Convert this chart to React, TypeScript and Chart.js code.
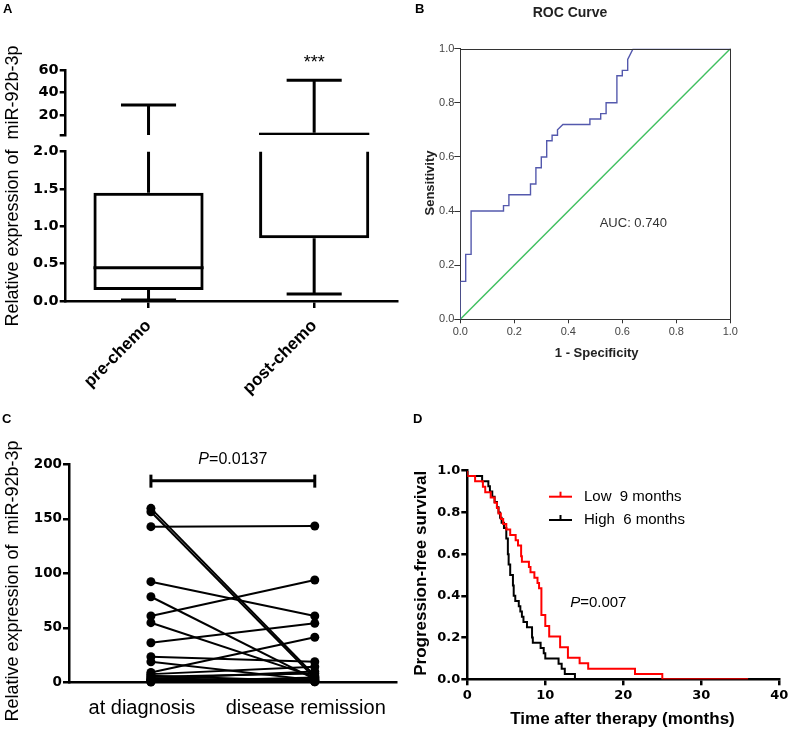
import React, { useEffect, useRef } from 'react';
import { Chart, registerables } from 'chart.js';

Chart.register(...registerables);
Chart.defaults.font.family = 'Liberation Sans';

const CW = 792;
const CH = 733;

// ---------- Panel A: box plot with broken y axis ----------
const boxCategories = ['pre-chemo', 'post-chemo'];
const boxMin = [0.013, 0.094];
const boxQ1 = [0.147, 0.84];
const boxMedian = [0.446, 2.6];
const boxQ3 = [1.45, 4.1];
const boxMax = [29, 51];
const boxStars = ['', '***'];
const upperTicks = [2, 20, 40, 60];
const lowerTicks = [0, 0.5, 1.0, 1.5, 2.0];

// ---------- Panel B: ROC curve ----------
const rocFpr = [0, 0, 0.02, 0.02, 0.04, 0.04, 0.16, 0.16, 0.18, 0.18, 0.26, 0.26, 0.28, 0.28, 0.30, 0.30, 0.32, 0.32, 0.34, 0.34, 0.36, 0.36, 0.38, 0.48, 0.48, 0.52, 0.52, 0.54, 0.54, 0.58, 0.58, 0.60, 0.60, 0.62, 0.62, 0.64, 1.0];
const rocTpr = [0, 0.14, 0.14, 0.24, 0.24, 0.40, 0.40, 0.42, 0.42, 0.46, 0.46, 0.50, 0.50, 0.56, 0.56, 0.60, 0.60, 0.66, 0.66, 0.68, 0.68, 0.70, 0.72, 0.72, 0.74, 0.74, 0.76, 0.76, 0.80, 0.80, 0.90, 0.90, 0.92, 0.92, 0.96, 1.0, 1.0];
const refFpr = [0, 1];
const refTpr = [0, 1];
const rocTicks = [0, 0.2, 0.4, 0.6, 0.8, 1.0];
const rocAuc = 'AUC: 0.740';

// ---------- Panel C: paired samples ----------
const pairedCategories = ['at diagnosis', 'disease remission'];
const atDiagnosis = [159.6, 156.5, 142.8, 92.3, 78.5, 60.8, 54.7, 36.3, 23.5, 18.9, 9, 7.5, 6, 5, 4, 3.2, 2.5, 2, 1.5, 1, 0.6, 0.3];
const atRemission = [6, 4, 143.4, 60.8, 3, 93.9, 5, 54.1, 18.9, 2, 41.3, 14.3, 1, 8, 0.5, 10, 2, 1.2, 3, 0.5, 4.5, 1];
const pairedTicks = [0, 50, 100, 150, 200];
const pairedBracketLevel = 185;
const pairedP = '0.0137';

// ---------- Panel D: Kaplan-Meier ----------
const lowTimes = [0, 1.0, 2.0, 2.3, 3.0, 3.5, 3.8, 4.0, 4.3, 4.6, 5.0, 5.5, 6.2, 6.5, 6.9, 7.0, 7.9, 8.1, 8.6, 9.0, 9.2, 9.5, 10.0, 10.5, 11.9, 12.9, 14.4, 15.5, 21.5, 25.0, 36.0];
const lowSurv = [1, 0.974, 0.949, 0.923, 0.897, 0.872, 0.846, 0.821, 0.795, 0.769, 0.744, 0.718, 0.692, 0.667, 0.641, 0.590, 0.564, 0.538, 0.513, 0.487, 0.462, 0.436, 0.308, 0.256, 0.205, 0.154, 0.103, 0.077, 0.051, 0.026, 0];
const highTimes = [0, 1.9, 2.7, 2.9, 3.2, 3.5, 3.8, 4.0, 4.2, 4.4, 4.7, 5.0, 5.2, 5.3, 5.5, 5.85, 5.95, 6.15, 6.6, 6.8, 7.0, 7.2, 7.65, 8.3, 8.4, 9.4, 9.8, 10.0, 11.7, 12.1, 12.5, 13.8, 15.0];
const highSurv = [1, 0.975, 0.95, 0.925, 0.9, 0.875, 0.85, 0.825, 0.8, 0.775, 0.75, 0.725, 0.675, 0.6, 0.55, 0.5, 0.45, 0.4, 0.375, 0.35, 0.325, 0.3, 0.275, 0.25, 0.2, 0.175, 0.15, 0.125, 0.1, 0.075, 0.05, 0.025, 0];
const kmLabels = ['Low  9 months', 'High  6 months'];
const kmColors = ['#ff0000', '#000000'];
const kmXTicks = [0, 10, 20, 30, 40];
const kmYTicks = [0, 0.2, 0.4, 0.6, 0.8, 1.0];
const kmP = '0.007';

// ---------- helpers ----------
const fixY = (w: number) => (s: any) => {
  s.width = w;
  s.paddingTop = 0; s.paddingBottom = 0; s.paddingLeft = 0; s.paddingRight = 0;
};
const fixX = (h: number) => (s: any) => {
  s.height = h;
  s.paddingTop = 0; s.paddingBottom = 0; s.paddingLeft = 0; s.paddingRight = 0;
};
const area = (left: number, top: number, right: number, bottom: number, yW: number, xH: number) => ({
  left: left - yW, top, right: CW - right, bottom: CH - bottom - xH,
});
const setTicks = (vals: number[]) => (s: any) => { s.ticks = vals.map((v) => ({ value: v })); };

function text(ctx: CanvasRenderingContext2D, str: string, x: number, y: number, font: string, color = '#000',
  align: CanvasTextAlign = 'center', baseline: CanvasTextBaseline = 'middle', rot = 0) {
  ctx.save();
  ctx.translate(x, y);
  ctx.rotate(rot);
  ctx.font = font;
  ctx.fillStyle = color;
  ctx.textAlign = align;
  ctx.textBaseline = baseline;
  ctx.fillText(str, 0, 0);
  ctx.restore();
}

function pText(ctx: CanvasRenderingContext2D, value: string, cx: number, cy: number, size: number) {
  ctx.save();
  const fi = `italic ${size}px "Liberation Sans"`;
  const fr = `${size}px "Liberation Sans"`;
  ctx.font = fi; const w1 = ctx.measureText('P').width;
  ctx.font = fr; const rest = '=' + value; const w2 = ctx.measureText(rest).width;
  const x0 = cx - (w1 + w2) / 2;
  text(ctx, 'P', x0, cy, fi, '#000', 'left', 'middle');
  text(ctx, rest, x0 + w1, cy, fr, '#000', 'left', 'middle');
  ctx.restore();
}

const line = (ctx: CanvasRenderingContext2D, x1: number, y1: number, x2: number, y2: number) => {
  ctx.beginPath(); ctx.moveTo(x1, y1); ctx.lineTo(x2, y2); ctx.stroke();
};

const baseOpts = (padding: any) => ({
  responsive: false,
  animation: false as const,
  events: [] as any[],
  layout: { autoPadding: false, padding },
  plugins: { legend: { display: false }, tooltip: { enabled: false }, title: { display: false } },
});

const boldTick = (size: number) => ({ family: 'DejaVu Sans', size, weight: 'bold' as const });

const blackAxis = (tickLength: number, drawTicks = true) => ({
  grid: { display: true, drawOnChartArea: false, drawTicks, tickLength, tickWidth: 2.5, tickColor: '#000', color: '#000', lineWidth: 2.5, offset: false },
  border: { display: true, color: '#000', width: 2.5 },
});

// box plot whiskers / median drawn through the chart's scales
const makeBoxPlugin = (extraBottom: number) => ({
  id: 'boxWhiskers',
  afterDatasetsDraw(chart: any) {
    const { ctx, chartArea: a, scales: { x, y } } = chart;
    const meta = chart.getDatasetMeta(0);
    ctx.save();
    ctx.beginPath();
    ctx.rect(a.left - 20, a.top, a.right - a.left + 40, a.bottom - a.top + extraBottom);
    ctx.clip();
    ctx.strokeStyle = '#000';
    ctx.lineWidth = 3;
    boxCategories.forEach((_, i) => {
      const cx = x.getPixelForValue(i);
      const half = meta.data[i].width / 2;
      const cap = half / 2;
      const yMax = y.getPixelForValue(boxMax[i]);
      const yMin = y.getPixelForValue(boxMin[i]);
      line(ctx, cx, y.getPixelForValue(boxQ3[i]), cx, yMax);
      line(ctx, cx, y.getPixelForValue(boxQ1[i]), cx, yMin);
      line(ctx, cx - cap, yMax, cx + cap, yMax);
      line(ctx, cx - cap, yMin, cx + cap, yMin);
      const yMed = y.getPixelForValue(boxMedian[i]);
      line(ctx, cx - half, yMed, cx + half, yMed);
    });
    ctx.restore();
  },
});

function boxDataset(extraBottom: number) {
  return {
    data: boxCategories.map((_, i) => [boxQ1[i], boxQ3[i]]),
    backgroundColor: 'rgba(0,0,0,0)',
    borderColor: '#000',
    borderWidth: 3,
    borderSkipped: false,
    barPercentage: 0.665,
    categoryPercentage: 1,
    clip: { left: 20, right: 20, top: 0, bottom: extraBottom },
  };
}

function makeALower(canvas: HTMLCanvasElement) {
  return new Chart(canvas, {
    type: 'bar',
    data: { labels: boxCategories, datasets: [boxDataset(3) as any] },
    options: {
      ...baseOpts(area(65.7, 151.7, 397, 301, 60, 100)),
      scales: {
        x: {
          type: 'category', offset: true, afterFit: fixX(100),
          ...blackAxis(7),
          ticks: { color: '#000', font: { family: 'Liberation Sans', size: 17, weight: 'bold' }, minRotation: 45, maxRotation: 45, padding: 8, autoSkip: false },
        },
        y: {
          type: 'linear', min: 0, max: 2, afterFit: fixY(60), afterBuildTicks: setTicks(lowerTicks),
          ...blackAxis(6),
          ticks: { color: '#000', font: boldTick(14.5), padding: 1, callback: (v: any) => Number(v).toFixed(1) },
        },
      },
    } as any,
    plugins: [makeBoxPlugin(3), {
      id: 'aText',
      afterDraw(chart: any) {
        const { ctx } = chart;
        text(ctx, 'A', 3, 13, 'bold 13px "Liberation Sans"', '#000', 'left', 'alphabetic');
        text(ctx, 'Relative expression of  miR-92b-3p', 13, 186, '18px "Liberation Sans"', '#000', 'center', 'middle', -Math.PI / 2);
      },
    }],
  });
}

function makeAUpper(canvas: HTMLCanvasElement) {
  return new Chart(canvas, {
    type: 'bar',
    data: { labels: boxCategories, datasets: [boxDataset(0) as any] },
    options: {
      ...baseOpts(area(65.7, 70.3, 397, 135, 60, 0)),
      scales: {
        x: { type: 'category', offset: true, display: false, grid: { offset: false } },
        y: {
          type: 'linear', min: 2, max: 60, afterFit: fixY(60), afterBuildTicks: setTicks(upperTicks),
          ...blackAxis(6),
          ticks: { color: '#000', font: boldTick(14.5), padding: 1, callback: (v: any) => (v === upperTicks[0] ? '' : String(v)) },
        },
      },
    } as any,
    plugins: [makeBoxPlugin(0), {
      id: 'stars',
      afterDraw(chart: any) {
        const { ctx, scales: { x } } = chart;
        boxStars.forEach((s, i) => {
          if (s) text(ctx, s, x.getPixelForValue(i), 68, '18px "Liberation Sans"', '#000', 'center', 'alphabetic');
        });
      },
    }],
  });
}

function makeB(canvas: HTMLCanvasElement) {
  const grayAxis = (tl: number) => ({
    grid: { display: true, drawOnChartArea: false, drawTicks: true, tickLength: tl, tickWidth: 1, tickColor: '#333', color: '#333', lineWidth: 1 },
    border: { display: true, color: '#333', width: 1 },
  });
  const tickFont = { family: 'Liberation Sans', size: 11 };
  return new Chart(canvas, {
    type: 'scatter',
    data: {
      datasets: [
        { data: rocFpr.map((v, i) => ({ x: v, y: rocTpr[i] })), showLine: true, borderColor: '#5459ad', borderWidth: 1.4, pointRadius: 0, tension: 0 },
        { data: refFpr.map((v, i) => ({ x: v, y: refTpr[i] })), showLine: true, borderColor: '#3fbf5f', borderWidth: 1.4, pointRadius: 0, tension: 0 },
      ],
    },
    options: {
      ...baseOpts(area(460.3, 48.7, 730.3, 319.3, 40, 30)),
      scales: {
        x: {
          type: 'linear', min: 0, max: 1, afterFit: fixX(30), afterBuildTicks: setTicks(rocTicks),
          ...grayAxis(4),
          ticks: { color: '#444', font: tickFont, padding: 2, maxRotation: 0, callback: (v: any) => Number(v).toFixed(1) },
        },
        y: {
          type: 'linear', min: 0, max: 1, afterFit: fixY(40), afterBuildTicks: setTicks(rocTicks),
          ...grayAxis(6),
          ticks: { color: '#444', font: tickFont, padding: 0, callback: (v: any) => Number(v).toFixed(1) },
        },
      },
    } as any,
    plugins: [{
      id: 'bText',
      afterDraw(chart: any) {
        const { ctx, chartArea: a } = chart;
        ctx.save();
        ctx.strokeStyle = '#333';
        ctx.lineWidth = 1;
        line(ctx, a.left, Math.round(a.top) + 0.5, a.right, Math.round(a.top) + 0.5);
        line(ctx, Math.round(a.right) + 0.5, a.top, Math.round(a.right) + 0.5, a.bottom);
        ctx.restore();
        text(ctx, 'B', 415, 13, 'bold 13px "Liberation Sans"', '#000', 'left', 'alphabetic');
        text(ctx, 'ROC Curve', 570, 13, 'bold 14px "Liberation Sans"', '#222');
        text(ctx, 'Sensitivity', 430, 183, 'bold 13px "Liberation Sans"', '#222', 'center', 'middle', -Math.PI / 2);
        text(ctx, '1 - Specificity', 596.7, 353, 'bold 13px "Liberation Sans"', '#222');
        text(ctx, rocAuc, 633.3, 223, '13px "Liberation Sans"', '#333');
      },
    }],
  });
}

function makeC(canvas: HTMLCanvasElement) {
  return new Chart(canvas, {
    type: 'line',
    data: {
      labels: pairedCategories,
      datasets: atDiagnosis.map((v, i) => ({
        data: [v, atRemission[i]],
        borderColor: '#000', borderWidth: 2,
        pointRadius: 4.5, pointBackgroundColor: '#000', pointBorderWidth: 0,
        clip: false, tension: 0,
      })),
    },
    options: {
      ...baseOpts(area(69, 464.3, 396.7, 682.3, 60, 40)),
      scales: {
        x: {
          type: 'category', offset: true, afterFit: fixX(40),
          ...blackAxis(0, false),
          ticks: { color: '#000', font: { family: 'Liberation Sans', size: 20 }, padding: 14, labelOffset: -9, maxRotation: 0, autoSkip: false },
        },
        y: {
          type: 'linear', min: 0, max: 200, afterFit: fixY(60), afterBuildTicks: setTicks(pairedTicks),
          ...blackAxis(6),
          ticks: { color: '#000', font: boldTick(13.5), padding: 1 },
        },
      },
    } as any,
    plugins: [{
      id: 'cText',
      afterDraw(chart: any) {
        const { ctx, scales: { x, y } } = chart;
        text(ctx, 'C', 2, 423, 'bold 13px "Liberation Sans"', '#000', 'left', 'alphabetic');
        text(ctx, 'Relative expression of  miR-92b-3p', 13, 581, '18px "Liberation Sans"', '#000', 'center', 'middle', -Math.PI / 2);
        const x0 = x.getPixelForValue(0);
        const x1 = x.getPixelForValue(1);
        const yb = y.getPixelForValue(pairedBracketLevel);
        ctx.save();
        ctx.strokeStyle = '#000';
        ctx.lineWidth = 3;
        line(ctx, x0, yb, x1, yb);
        line(ctx, x0, yb - 6, x0, yb + 7);
        line(ctx, x1, yb - 6, x1, yb + 7);
        ctx.restore();
        pText(ctx, pairedP, (x0 + x1) / 2, yb - 21, 16);
      },
    }],
  });
}

function makeD(canvas: HTMLCanvasElement) {
  return new Chart(canvas, {
    type: 'scatter',
    data: {
      datasets: [
        { label: kmLabels[0], data: lowTimes.map((t, i) => ({ x: t, y: lowSurv[i] })), showLine: true, stepped: 'after', borderColor: kmColors[0], borderWidth: 2, pointRadius: 0 },
        { label: kmLabels[1], data: highTimes.map((t, i) => ({ x: t, y: highSurv[i] })), showLine: true, stepped: 'after', borderColor: kmColors[1], borderWidth: 2, pointRadius: 0 },
      ],
    },
    options: {
      ...baseOpts(area(467.3, 470.7, 779.3, 679.3, 60, 30)),
      scales: {
        x: {
          type: 'linear', min: 0, max: 40, afterFit: fixX(30), afterBuildTicks: setTicks(kmXTicks),
          ...blackAxis(6),
          ticks: { color: '#000', font: boldTick(13), padding: 3, maxRotation: 0 },
        },
        y: {
          type: 'linear', min: 0, max: 1, afterFit: fixY(60), afterBuildTicks: setTicks(kmYTicks),
          ...blackAxis(6),
          ticks: { color: '#000', font: boldTick(13), padding: 1, callback: (v: any) => Number(v).toFixed(1) },
        },
      },
    } as any,
    plugins: [{
      id: 'dText',
      afterDraw(chart: any) {
        const { ctx } = chart;
        text(ctx, 'D', 413, 423, 'bold 13px "Liberation Sans"', '#000', 'left', 'alphabetic');
        text(ctx, 'Progression-free survival', 421.7, 573.3, 'bold 17px "Liberation Sans"', '#000', 'center', 'middle', -Math.PI / 2);
        text(ctx, 'Time after therapy (months)', 622.5, 719, 'bold 17px "Liberation Sans"', '#000');
        const rows = [496.7, 520];
        kmLabels.forEach((lab, i) => {
          ctx.save();
          ctx.strokeStyle = kmColors[i];
          ctx.lineWidth = 2;
          line(ctx, 549, rows[i], 572, rows[i]);
          line(ctx, 560.5, rows[i] - 5, 560.5, rows[i]);
          ctx.restore();
          text(ctx, lab, 584, rows[i], '15px "Liberation Sans"', '#000', 'left', 'middle');
        });
        pText(ctx, kmP, 598.3, 603, 15);
      },
    }],
  });
}

function ChartCanvas({ make }: { make: (c: HTMLCanvasElement) => Chart }) {
  const ref = useRef<HTMLCanvasElement>(null);
  useEffect(() => {
    const chart = make(ref.current as HTMLCanvasElement);
    return () => chart.destroy();
  }, [make]);
  return (
    <canvas
      ref={ref}
      width={CW}
      height={CH}
      style={{ position: 'absolute', left: 0, top: 0, width: CW, height: CH }}
    />
  );
}

export default function App() {
  return (
    <div style={{ position: 'absolute', left: 0, top: 0, width: CW, height: CH, background: '#fff', overflow: 'hidden' }}>
      <ChartCanvas make={makeALower} />
      <ChartCanvas make={makeAUpper} />
      <ChartCanvas make={makeB} />
      <ChartCanvas make={makeC} />
      <ChartCanvas make={makeD} />
    </div>
  );
}
